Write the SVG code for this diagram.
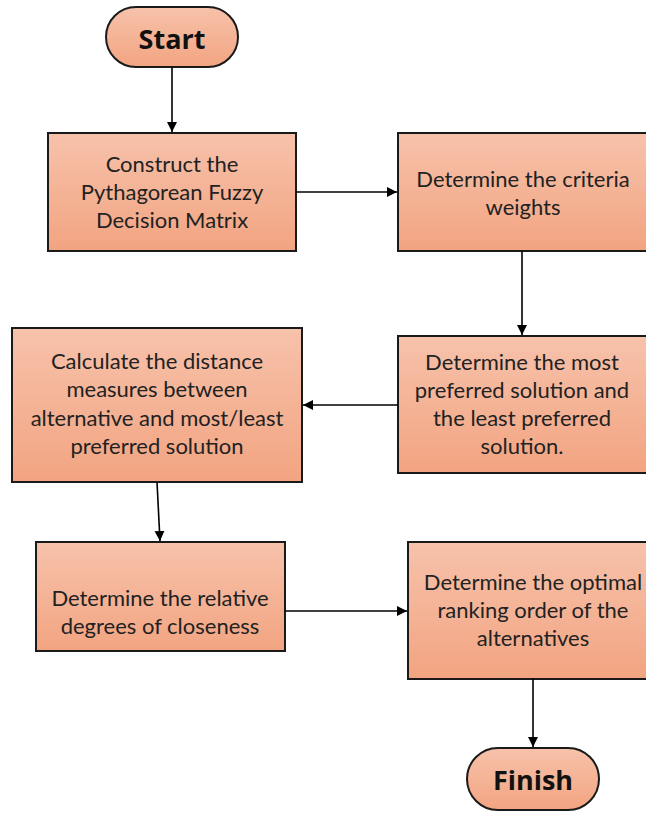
<svg xmlns="http://www.w3.org/2000/svg" width="646" height="814" viewBox="0 0 646 814">
  <defs>
    <linearGradient id="fill" x1="0" y1="0" x2="0" y2="1">
      <stop offset="0" stop-color="#F7C2AB"/>
      <stop offset="1" stop-color="#F2A481"/>
    </linearGradient>
    <marker id="arrow" viewBox="0 0 10 10" refX="10" refY="5" markerWidth="10" markerHeight="10" markerUnits="userSpaceOnUse" orient="auto">
      <path d="M0,0 L10,5 L0,10 Z" fill="#000"/>
    </marker>
  </defs>
  <style>
    .box { fill: url(#fill); stroke: #1a1a1a; stroke-width: 2; }
    .lbl { font-family: Lato, "Open Sans", "Liberation Sans", sans-serif; font-size: 22px; fill: #222; text-anchor: middle; }
    .term { font-family: "Open Sans", "Liberation Sans", sans-serif; font-size: 27px; font-weight: bold; fill: #111; text-anchor: middle; }
    .edge { stroke: #000; stroke-width: 1.6; fill: none; marker-end: url(#arrow); }
  </style>
  <rect width="646" height="814" fill="#fff"/>

  <g id="start">
    <rect class="box" x="106" y="7" width="132" height="60" rx="30" ry="30"/>
    <text class="term" x="172" y="49">Start</text>
  </g>

  <g id="construct">
    <rect class="box" x="48" y="133" width="248" height="118"/>
    <text class="lbl" x="172" y="172">Construct the</text>
    <text class="lbl" x="172" y="200">Pythagorean Fuzzy</text>
    <text class="lbl" x="172" y="228">Decision Matrix</text>
  </g>

  <g id="weights">
    <rect class="box" x="398" y="133" width="250" height="118"/>
    <text class="lbl" x="523" y="187">Determine the criteria</text>
    <text class="lbl" x="523" y="215">weights</text>
  </g>

  <g id="preferred">
    <rect class="box" x="398" y="336" width="250" height="137"/>
    <text class="lbl" x="522" y="370">Determine the most</text>
    <text class="lbl" x="522" y="398">preferred solution and</text>
    <text class="lbl" x="522" y="426">the least preferred</text>
    <text class="lbl" x="522" y="454">solution.</text>
  </g>

  <g id="distance">
    <rect class="box" x="12" y="328" width="290" height="154"/>
    <text class="lbl" x="157" y="369">Calculate the distance</text>
    <text class="lbl" x="157" y="397">measures between</text>
    <text class="lbl" x="157" y="426">alternative and most/least</text>
    <text class="lbl" x="157" y="454">preferred solution</text>
  </g>

  <g id="closeness">
    <rect class="box" x="36" y="542" width="249" height="109"/>
    <text class="lbl" x="160" y="606">Determine the relative</text>
    <text class="lbl" x="160" y="634">degrees of closeness</text>
  </g>

  <g id="ranking">
    <rect class="box" x="408" y="542" width="240" height="137"/>
    <text class="lbl" x="533" y="590">Determine the optimal</text>
    <text class="lbl" x="533" y="618">ranking order of the</text>
    <text class="lbl" x="533" y="646">alternatives</text>
  </g>

  <g id="finish">
    <rect class="box" x="467" y="748" width="132" height="62" rx="31" ry="31"/>
    <text class="term" x="533" y="790">Finish</text>
  </g>

  <g id="connectors">
    <line class="edge" x1="172" y1="67" x2="172" y2="132"/>
    <line class="edge" x1="296" y1="192" x2="397" y2="192"/>
    <line class="edge" x1="522" y1="251" x2="522" y2="335"/>
    <line class="edge" x1="398" y1="405" x2="303" y2="405"/>
    <line class="edge" x1="157" y1="482" x2="160" y2="541"/>
    <line class="edge" x1="285" y1="611" x2="407" y2="611"/>
    <line class="edge" x1="533" y1="679" x2="533" y2="747"/>
  </g>
</svg>
